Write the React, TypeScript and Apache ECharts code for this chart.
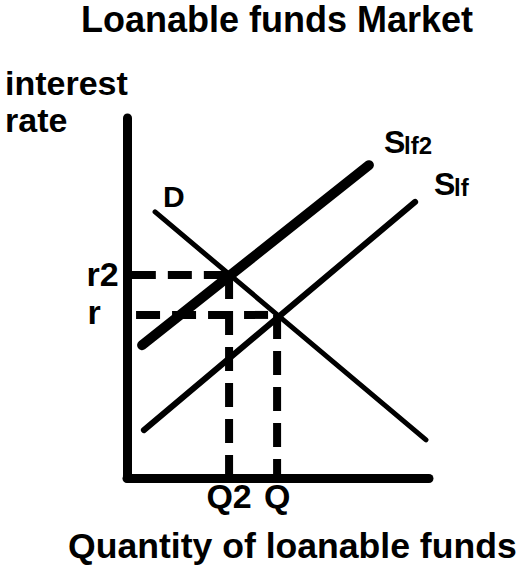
import React, { useEffect, useRef } from "react";
import * as echarts from "echarts";

// Curves of the loanable funds market, in 0–100 units on both axes
const demandCurve: number[][] = [
  [9.3, 73.9],
  [99.0, 10.6],
];
const supplyCurve: number[][] = [
  [5.6, 13.3],
  [95.4, 76.7],
];
const supplyCurve2: number[][] = [
  [5.0, 36.9],
  [80.1, 86.9],
];

// Equilibria: original supply (Q, r) and shifted supply (Q2, r2)
const equilibrium: number[] = [49.7, 45.3];
const equilibrium2: number[] = [33.8, 56.4];

const rateLabels: string[] = ["r2", "r"];
const quantityLabels: string[] = ["Q2", "Q"];

// Where the horizontal guide dashes begin on the rate axis
const guideStart: number[] = [1.6, 3.0];

const FONT = "'Liberation Sans', Arial, Helvetica, sans-serif";

export default function App() {
  const ref = useRef<HTMLDivElement>(null);

  useEffect(() => {
    if (!ref.current) return;
    const chart = echarts.init(ref.current, undefined, { renderer: "svg" });

    const solid = (width: number) => ({
      color: "#000",
      width,
      cap: "round" as const,
    });
    const dashed = {
      color: "#000",
      width: 8,
      type: [24, 12] as number[],
      cap: "butt" as const,
    };

    const guide = (data: number[][]) => ({
      type: "line" as const,
      data,
      symbol: "none",
      silent: true,
      lineStyle: dashed,
      z: 2,
    });

    const axisLineStyle = {
      color: "#000",
      width: 9,
      cap: "round" as const,
    };

    const quantityValues = [equilibrium2[0], equilibrium[0]];
    const rateValues = [equilibrium2[1], equilibrium[1]];
    // nudges so the short "r" glyph sits on its guide like "r2"
    const rateOffsets = [
      [-40, 0],
      [-39, -2],
    ];

    const labelText = (size: number) => ({
      fontFamily: FONT,
      fontWeight: "bold" as const,
      fontSize: size,
      fill: "#000",
      align: "left" as const,
      verticalAlign: "middle" as const,
    });

    chart.setOption({
      animation: false,
      backgroundColor: "#fff",
      grid: { left: 127, right: 92, top: 118, bottom: 89, containLabel: false },
      xAxis: {
        type: "value",
        min: 0,
        max: 100,
        axisLine: { show: true, lineStyle: axisLineStyle },
        axisTick: { show: false },
        splitLine: { show: false },
        axisLabel: {
          customValues: quantityValues,
          hideOverlap: false,
          margin: 1,
          color: "#000",
          fontFamily: FONT,
          fontWeight: "bold",
          fontSize: 34,
          lineHeight: 34,
          formatter: (v: number) => {
            const i = quantityValues.findIndex((q) => Math.abs(q - v) < 1e-6);
            return i >= 0 ? quantityLabels[i] : "";
          },
        },
      },
      yAxis: {
        type: "value",
        min: 0,
        max: 100,
        axisLine: { show: true, lineStyle: axisLineStyle },
        axisTick: { show: false },
        splitLine: { show: false },
        axisLabel: { show: false },
      },
      series: [
        guide([
          [guideStart[0], equilibrium2[1]],
          [equilibrium2[0], equilibrium2[1]],
        ]),
        guide([
          [equilibrium2[0], equilibrium2[1]],
          [equilibrium2[0], 0],
        ]),
        guide([
          [guideStart[1], equilibrium[1]],
          [equilibrium[0], equilibrium[1]],
        ]),
        guide([
          [equilibrium[0], equilibrium[1]],
          [equilibrium[0], 0],
        ]),
        {
          name: "D",
          type: "line",
          data: demandCurve,
          symbol: "none",
          lineStyle: solid(5),
          z: 3,
        },
        {
          name: "Slf",
          type: "line",
          data: supplyCurve,
          symbol: "none",
          lineStyle: solid(6),
          z: 3,
        },
        {
          name: "Slf2",
          type: "line",
          data: supplyCurve2,
          symbol: "none",
          lineStyle: solid(10),
          z: 4,
        },
        {
          // interest-rate labels on the vertical axis
          name: "rates",
          type: "scatter",
          clip: false,
          silent: true,
          symbolSize: 1,
          itemStyle: { color: "#fff", opacity: 0 },
          z: 5,
          data: rateValues.map((y, i) => ({
            value: [0, y],
            label: {
              show: true,
              position: [0, 0],
              offset: rateOffsets[i],
              formatter: rateLabels[i],
              align: "left",
              verticalAlign: "middle",
              color: "#000",
              opacity: 1,
              textBorderWidth: 0,
              fontFamily: FONT,
              fontWeight: "bold",
              fontSize: 34,
              lineHeight: 24,
            },
          })),
        },
      ],
      graphic: [
        {
          type: "text",
          x: 81,
          y: 19,
          style: { text: "Loanable funds Market", ...labelText(36) },
        },
        {
          type: "text",
          x: 5,
          y: 83,
          style: { text: "interest", ...labelText(34) },
        },
        {
          type: "text",
          x: 5,
          y: 120,
          style: { text: "rate", ...labelText(34) },
        },
        {
          type: "text",
          x: 68,
          y: 546,
          style: { text: "Quantity of loanable funds", ...labelText(35.6) },
        },
        {
          type: "text",
          x: 163,
          y: 196,
          style: { text: "D", ...labelText(30) },
        },
        {
          type: "text",
          x: 384,
          y: 142,
          style: { text: "S", ...labelText(32) },
        },
        {
          type: "text",
          x: 404,
          y: 145,
          style: { text: "lf2", ...labelText(24) },
        },
        {
          type: "text",
          x: 434,
          y: 184,
          style: { text: "S", ...labelText(32) },
        },
        {
          type: "text",
          x: 454,
          y: 187,
          style: { text: "lf", ...labelText(24) },
        },
      ],
    });

    return () => chart.dispose();
  }, []);

  return (
    <div
      ref={ref}
      style={{ position: "fixed", left: 0, top: 0, width: 521, height: 567 }}
    />
  );
}
